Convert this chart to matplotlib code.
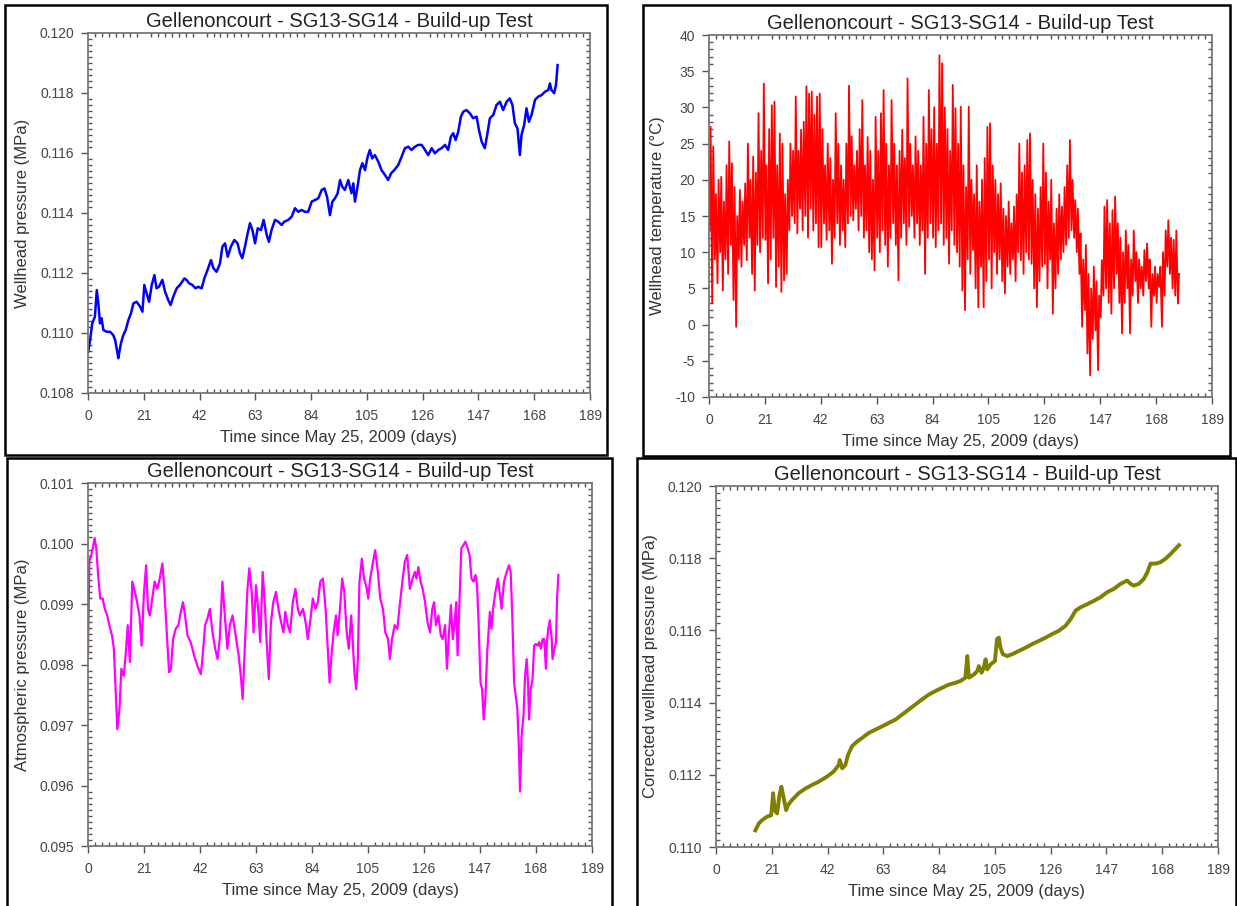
import numpy as np
import matplotlib
matplotlib.use("Agg")
import matplotlib.pyplot as plt
from matplotlib.ticker import MultipleLocator, FormatStrFormatter
from matplotlib.patches import Rectangle

plt.rcParams['font.family'] = ['Liberation Sans', 'DejaVu Sans']
plt.rcParams['axes.unicode_minus'] = False

TITLE = 'Gellenoncourt - SG13-SG14 - Build-up Test'
XLABEL = 'Time since May 25, 2009 (days)'

# --- wellhead pressure (MPa) ---
well_day = [0.1, 0.8, 1.6, 2.6, 3.3, 3.9, 4.5, 5.1, 5.8, 7.0,
            8.3, 9.5, 10.2, 11.0, 11.4, 12.4, 13.3, 14.2, 15.2, 16.2,
            17.1, 18.3, 19.6, 20.5, 21.2, 22.1, 23.0, 24.0, 25.0, 25.8,
            26.7, 28.0, 29.0, 30.2, 31.1, 32.1, 33.4, 34.6, 36.3, 37.1,
            38.0, 39.3, 40.5, 41.5, 42.8, 43.8, 45.0, 46.3, 47.2, 48.4,
            49.7, 50.6, 51.6, 52.6, 53.8, 55.1, 56.3, 57.2, 58.1, 59.1,
            60.1, 61.0, 61.9, 62.9, 63.9, 65.1, 66.1, 67.3, 68.1, 69.1,
            70.4, 71.6, 72.9, 73.9, 75.4, 76.7, 77.9, 79.2, 80.4, 81.7,
            82.9, 84.2, 85.4, 86.7, 88.0, 89.0, 90.0, 91.1, 92.0, 93.0,
            94.0, 94.9, 95.7, 96.7, 98.0, 99.2, 99.9, 100.5, 101.5, 102.4,
            103.3, 104.3, 105.3, 106.1, 107.0, 108.0, 109.3, 110.5, 111.8, 113.0,
            114.1, 115.3, 116.8, 118.1, 119.3, 120.6, 121.8, 123.1, 124.3, 125.6,
            126.9, 128.1, 129.4, 130.6, 131.9, 133.1, 134.4, 135.6, 136.6, 137.5,
            138.4, 139.4, 140.4, 141.3, 142.5, 143.8, 145.0, 146.3, 147.2, 148.2,
            149.4, 150.4, 151.3, 152.6, 153.8, 155.1, 156.3, 157.6, 158.8, 159.8,
            160.7, 161.7, 162.6, 163.2, 164.2, 165.1, 166.0, 167.0, 168.3, 169.5,
            170.8, 172.0, 173.3, 173.9, 174.5, 175.5, 176.2, 176.8]
well_p = [0.10938, 0.10977, 0.11032, 0.11054, 0.11143, 0.11099, 0.11032, 0.11049, 0.11010, 0.11004,
          0.11004, 0.10993, 0.10977, 0.10938, 0.10916, 0.10966, 0.10993, 0.11010, 0.11043, 0.11066,
          0.11099, 0.11104, 0.11088, 0.11071, 0.11160, 0.11132, 0.11104, 0.11160, 0.11193, 0.11149,
          0.11154, 0.11177, 0.11138, 0.11110, 0.11093, 0.11121, 0.11149, 0.11160, 0.11182, 0.11177,
          0.11166, 0.11160, 0.11149, 0.11154, 0.11149, 0.11182, 0.11210, 0.11243, 0.11216, 0.11204,
          0.11232, 0.11288, 0.11299, 0.11254, 0.11288, 0.11310, 0.11299, 0.11266, 0.11249, 0.11288,
          0.11332, 0.11366, 0.11343, 0.11299, 0.11349, 0.11343, 0.11377, 0.11327, 0.11304, 0.11343,
          0.11377, 0.11371, 0.11360, 0.11371, 0.11377, 0.11388, 0.11416, 0.11404, 0.11410, 0.11404,
          0.11404, 0.11438, 0.11443, 0.11449, 0.11477, 0.11482, 0.11454, 0.11393, 0.11438, 0.11449,
          0.11466, 0.11510, 0.11488, 0.11477, 0.11510, 0.11466, 0.11499, 0.11438, 0.11488, 0.11543,
          0.11566, 0.11543, 0.11588, 0.11610, 0.11582, 0.11593, 0.11571, 0.11543, 0.11527, 0.11510,
          0.11532, 0.11543, 0.11560, 0.11588, 0.11616, 0.11621, 0.11610, 0.11621, 0.11627, 0.11627,
          0.11610, 0.11593, 0.11616, 0.11599, 0.11610, 0.11616, 0.11627, 0.11610, 0.11654, 0.11666,
          0.11643, 0.11671, 0.11721, 0.11738, 0.11743, 0.11732, 0.11716, 0.11721, 0.11677, 0.11638,
          0.11616, 0.11666, 0.11716, 0.11727, 0.11760, 0.11771, 0.11743, 0.11771, 0.11782, 0.11760,
          0.11699, 0.11682, 0.11593, 0.11660, 0.11693, 0.11749, 0.11704, 0.11727, 0.11777, 0.11788,
          0.11793, 0.11804, 0.11810, 0.11832, 0.11810, 0.11799, 0.11827, 0.11893]

# --- wellhead temperature (deg C): daily low and high, day 0..176 ---
temp_low = [13, 3, 9, 5.7, 10, 4.7, 9, 7, 11, 3.4,
            -0.3, 9, 8, 11, 8.9, 12, 7, 4.7, 11, 10,
            12, 11.7, 5.7, 9, 12, 5.2, 8, 4.5, 6.1, 7,
            13, 15, 14, 12.6, 16, 13, 15, 12, 16, 13,
            14, 10.7, 10.7, 14, 11.7, 13, 8.4, 12, 14, 11,
            13, 10.7, 14, 15, 14.4, 16, 13, 15, 12, 13,
            10, 9, 7.5, 12, 10, 13, 11, 8, 12, 14,
            11, 6.1, 12, 14, 11, 13.5, 15, 12, 14, 11,
            13, 7, 12, 14, 12, 10.7, 13, 14, 11, 12,
            8.4, 13, 11, 10, 8, 4.7, 2, 9, 7, 10.3,
            5, 2.4, 8, 2.4, 6, 9, 5, 10, 7, 9,
            6, 4.3, 8, 7, 9, 6, 10, 8.9, 7, 10,
            9, 8.4, 5, 2.4, 6, 8, 8.4, 5, 9, 1.5,
            5, 7, 9, 10, 11, 12, 13, 12, 10, 7,
            -0.3, 2, -4, -7, -2, -0.8, -6.3, 1, 4, 5,
            3, 1.5, 5, 7, 3, -1.2, 3, 5, -1.2, 4,
            6, 3, 5, 4, 6, 5, -0.3, 4, 3, 5.2,
            -0.3, 4, 8, 7, 5, 4, 2.9]
temp_high = [27.3, 24.6, 18, 20, 20.4, 17, 22, 25.3, 22.3, 19,
             15, 18.6, 17, 19.5, 25, 20, 23.2, 21, 29.2, 24,
             33.3, 22, 27, 30.3, 30.8, 22, 26.4, 25, 18, 20,
             25, 24, 31.5, 24, 26.9, 28, 32.9, 31.9, 32.2, 29,
             31.5, 31.9, 27, 22, 25, 23, 20, 29.2, 25, 22,
             20, 25, 33, 26, 22, 24, 27, 31, 22, 25.9,
             24, 20, 28.7, 24, 29.2, 32.4, 25, 22, 31, 25,
             22, 24, 26.9, 23, 34, 25, 22, 26, 24, 22,
             28.7, 25, 32.4, 27, 30, 25, 37.2, 36.1, 30, 27,
             24, 33.1, 29.9, 25, 30.1, 22, 19, 30.1, 20, 18,
             22, 17, 20, 23, 27.3, 27.8, 22, 20, 18, 19.5,
             16, 15, 17, 14, 16.3, 18, 25, 21, 22, 25.5,
             26.4, 20, 18, 16, 19, 25, 21, 17, 20, 14,
             16, 18, 16.3, 19, 22, 25.5, 20, 17.2, 16, 12.6,
             9, 11, 7, 5, 8, 6, 4, 8.9, 16.3, 17.2,
             14, 15.8, 17.7, 14, 12, 10, 13, 11, 9, 13,
             10, 9, 8, 10.3, 11.2, 9, 7, 8, 7, 8,
             10, 13, 14.4, 12, 11.7, 13, 7]

# --- atmospheric pressure (MPa) ---
atm_day = [0.0, 0.5, 1.5, 2.5, 3.1, 3.8, 4.6, 5.5, 6.3, 7.2,
           8.0, 9.0, 9.7, 10.5, 11.0, 11.8, 12.5, 13.4, 14.1, 14.9,
           15.7, 16.6, 17.6, 18.4, 19.3, 20.1, 21.0, 21.8, 22.5, 23.2,
           24.1, 25.0, 26.0, 26.9, 27.9, 28.6, 29.4, 30.4, 31.1, 31.9,
           32.9, 33.9, 34.8, 35.6, 36.4, 37.3, 38.5, 39.8, 41.0, 42.3,
           42.9, 43.9, 44.8, 45.7, 46.7, 47.7, 48.6, 49.4, 50.4, 51.3,
           52.3, 53.2, 54.2, 55.2, 56.5, 57.3, 58.0, 59.0, 59.8, 60.5,
           61.4, 62.1, 63.0, 63.9, 64.6, 65.5, 66.4, 67.0, 67.8, 68.6,
           69.5, 70.5, 71.4, 72.4, 73.3, 74.0, 74.9, 75.8, 76.8, 77.8,
           78.7, 79.5, 80.6, 81.6, 82.4, 83.3, 84.3, 85.3, 86.2, 87.1,
           88.1, 89.1, 89.9, 90.6, 91.3, 92.1,
           93.0, 93.6, 94.5, 95.3, 96.1, 97.0, 97.8, 98.7, 99.3, 99.9,
           100.6, 101.2, 101.8, 102.7, 103.5, 104.3, 105.1, 105.8, 106.9, 107.7,
           108.7, 109.6, 110.6, 111.5, 112.5, 113.2, 114.0, 115.0, 116.0, 116.9,
           117.9, 118.8, 119.7, 120.7, 121.7, 122.6, 123.2, 123.9, 124.7, 125.5,
           126.4, 127.3, 128.3, 129.1, 129.8, 130.5, 131.4, 132.3, 133.0, 133.9,
           134.6, 135.4, 136.1, 136.8, 137.5, 138.1, 138.6, 139.3, 140.0, 140.9,
           141.5, 142.4, 143.1, 143.8, 144.6, 145.3, 145.9, 146.5, 147.2, 147.8,
           148.4, 149.0, 149.7, 150.7, 151.3, 151.9, 152.8, 153.7, 154.5, 155.1,
           156.0, 157.0, 157.9, 158.5, 159.1, 159.8, 160.4, 161.0, 161.6, 162.0,
           162.6, 163.3, 163.9, 164.5, 165.0, 165.4, 166.0, 166.7, 167.3, 167.9,
           168.6, 169.2, 169.8, 170.5, 171.1, 171.7, 172.1, 172.6, 173.2, 173.9,
           174.2, 174.9, 175.5, 175.9, 176.4]
atm_p = [0.09817, 0.09970, 0.09986, 0.10009, 0.09992, 0.09948, 0.09909, 0.09909, 0.09892, 0.09881,
         0.09865, 0.09848, 0.09826, 0.09743, 0.09693, 0.09726, 0.09793, 0.09781, 0.09815, 0.09865,
         0.09804, 0.09937, 0.09920, 0.09903, 0.09881, 0.09831, 0.09920, 0.09964, 0.09892, 0.09881,
         0.09909, 0.09937, 0.09925, 0.09942, 0.09967, 0.09925, 0.09865, 0.09787, 0.09793, 0.09842,
         0.09859, 0.09865, 0.09887, 0.09903, 0.09881, 0.09848, 0.09837, 0.09815, 0.09798, 0.09784,
         0.09809, 0.09865, 0.09876, 0.09892, 0.09853, 0.09826, 0.09809, 0.09842, 0.09937, 0.09881,
         0.09826, 0.09865, 0.09881, 0.09853, 0.09815, 0.09781, 0.09743, 0.09848, 0.09925, 0.09959,
         0.09920, 0.09853, 0.09931, 0.09887, 0.09837, 0.09953, 0.09892, 0.09837, 0.09776, 0.09870,
         0.09903, 0.09920, 0.09892, 0.09870, 0.09853, 0.09887, 0.09865, 0.09853, 0.09903, 0.09925,
         0.09892, 0.09881, 0.09892, 0.09870, 0.09842, 0.09870, 0.09909, 0.09892, 0.09903, 0.09937,
         0.09942, 0.09892, 0.09826, 0.09770, 0.09815, 0.09853,
         0.09881, 0.09848, 0.09892, 0.09942, 0.09920, 0.09853, 0.09826, 0.09881, 0.09837, 0.09787,
         0.09759, 0.09809, 0.09937, 0.09975, 0.09942, 0.09931, 0.09909, 0.09942, 0.09970, 0.09989,
         0.09953, 0.09909, 0.09892, 0.09853, 0.09842, 0.09809, 0.09842, 0.09865, 0.09859, 0.09898,
         0.09937, 0.09970, 0.09981, 0.09925, 0.09942, 0.09953, 0.09942, 0.09961, 0.09937, 0.09925,
         0.09903, 0.09870, 0.09853, 0.09892, 0.09903, 0.09865, 0.09881, 0.09848, 0.09842, 0.09865,
         0.09793, 0.09853, 0.09898, 0.09842, 0.09870, 0.09903, 0.09815, 0.09903, 0.09992, 0.09998,
         0.10003, 0.09992, 0.09981, 0.09942, 0.09937, 0.09948, 0.09931, 0.09865, 0.09770, 0.09759,
         0.09709, 0.09743, 0.09820, 0.09887, 0.09859, 0.09892, 0.09920, 0.09942, 0.09914, 0.09892,
         0.09937, 0.09953, 0.09964, 0.09953, 0.09881, 0.09770, 0.09748, 0.09726, 0.09660, 0.09590,
         0.09682, 0.09715, 0.09781, 0.09809, 0.09770, 0.09709, 0.09759, 0.09776, 0.09831, 0.09834,
         0.09831, 0.09837, 0.09826, 0.09842, 0.09842, 0.09793, 0.09837, 0.09859, 0.09873, 0.09842,
         0.09809, 0.09826, 0.09837, 0.09909, 0.09948]

# --- corrected wellhead pressure (MPa) ---
corr_day = [14.8, 16.1, 17.3, 19.2, 20.8, 21.5, 22.1, 23.0, 23.9, 24.6,
            25.5, 26.4, 27.1, 28.6, 31.1, 33.7, 36.2, 38.7, 41.8, 44.3,
            46.2, 46.6, 47.5, 48.7, 49.7, 51.2, 53.1, 55.0, 57.5, 60.0,
            62.5, 65.1, 67.6, 70.1, 72.6, 75.1, 77.6, 80.1, 82.6, 85.1,
            87.7, 90.2, 92.1, 93.9, 94.6, 95.2, 97.1, 98.3, 99.0, 100.0,
            100.8, 101.5, 102.1, 103.4, 105.0, 105.8, 106.5, 107.1, 108.0, 109.6,
            111.5, 114.0, 116.5, 119.0, 121.6, 124.1, 126.6, 129.1, 131.6, 133.5,
            135.4, 137.3, 139.8, 142.3, 144.8, 147.3, 149.8, 152.3, 154.8, 156.1,
            157.3, 159.2, 161.1, 162.4, 163.6, 165.5, 167.4, 169.3, 171.2, 173.0,
            174.3]
corr_p = [0.11046, 0.11065, 0.11074, 0.11084, 0.11088, 0.11149, 0.11102, 0.11093, 0.11144, 0.11167,
          0.11135, 0.11102, 0.11116, 0.11130, 0.11149, 0.11162, 0.11172, 0.11181, 0.11195, 0.11209,
          0.11227, 0.11241, 0.11218, 0.11227, 0.11255, 0.11279, 0.11292, 0.11302, 0.11316, 0.11325,
          0.11334, 0.11344, 0.11353, 0.11367, 0.11381, 0.11395, 0.11409, 0.11422, 0.11432, 0.11441,
          0.11450, 0.11455, 0.11460, 0.11469, 0.11529, 0.11469, 0.11478, 0.11487, 0.11501, 0.11483,
          0.11497, 0.11520, 0.11492, 0.11506, 0.11515, 0.11576, 0.11580, 0.11552, 0.11534, 0.11529,
          0.11534, 0.11543, 0.11552, 0.11562, 0.11571, 0.11580, 0.11590, 0.11599, 0.11613, 0.11631,
          0.11655, 0.11664, 0.11673, 0.11682, 0.11692, 0.11706, 0.11715, 0.11729, 0.11738, 0.11729,
          0.11724, 0.11729, 0.11743, 0.11761, 0.11785, 0.11785, 0.11789, 0.11799, 0.11812, 0.11826,
          0.11836]

W, H = 1237, 906
fig = plt.figure(figsize=(W / 100, H / 100), dpi=100)


def frame(x0, y0, x1, y1):
    fig.add_artist(Rectangle((x0 / W, 1 - y1 / H), (x1 - x0) / W, (y1 - y0) / H,
                             transform=fig.transFigure, fill=False, ec='black', lw=1.8))


def panel(box, ylim, ystep, ysub, fmt, ylabel):
    l, t, r, b = box
    ax = fig.add_axes([l / W, 1 - b / H, (r - l) / W, (b - t) / H])
    ax.set_xlim(0, 189)
    ax.set_ylim(*ylim)
    ax.xaxis.set_major_locator(MultipleLocator(21))
    ax.xaxis.set_minor_locator(MultipleLocator(21 / 8))
    ax.yaxis.set_major_locator(MultipleLocator(ystep))
    ax.yaxis.set_minor_locator(MultipleLocator(ystep / ysub))
    ax.yaxis.set_major_formatter(FormatStrFormatter(fmt))
    ax.tick_params(which='major', direction='out', length=5, width=1, color='#555',
                   labelsize=10, labelcolor='#444')
    ax.tick_params(axis='x', which='major', pad=6.5)
    ax.tick_params(axis='y', which='major', pad=5)
    ax.tick_params(which='minor', direction='in', length=3, width=1, color='#555',
                   top=True, right=True)
    for s in ax.spines.values():
        s.set_color('#777')
        s.set_linewidth(1.3)
    ax.set_title(TITLE, fontsize=14.5, color='#222', pad=4)
    ax.set_xlabel(XLABEL, fontsize=12, color='#333', labelpad=5)
    ax.set_ylabel(ylabel, fontsize=12, color='#333', labelpad=7)
    return ax


# top left: wellhead pressure
ax1 = panel((88, 33, 590, 393), (0.108, 0.120), 0.002, 10, '%.3f', 'Wellhead pressure (MPa)')
ax1.plot(well_day, well_p, color='#0000ff', lw=1.8)
frame(5, 5, 607, 455)

# top right: wellhead temperature
ax2 = panel((709, 35, 1212, 397), (-10, 40), 5, 5, '%d', 'Wellhead temperature (°C)')
days = np.arange(len(temp_low))
tx = np.column_stack([days + 0.2, days + 0.6]).ravel()
ty = np.column_stack([temp_low, temp_high]).ravel()
ax2.plot(tx, ty, color='#ff0000', lw=1.3)
frame(643, 5, 1230, 456)

# bottom left: atmospheric pressure
ax3 = panel((88, 483, 592, 846), (0.095, 0.101), 0.001, 10, '%.3f', 'Atmospheric pressure (MPa)')
ax3.plot(atm_day, atm_p, color='#ff00ff', lw=1.6)
frame(7, 458, 612, 915)

# bottom right: corrected wellhead pressure
ax4 = panel((716, 486, 1218, 847), (0.110, 0.120), 0.002, 10, '%.3f', 'Corrected wellhead pressure (MPa)')
ax4.plot(corr_day, corr_p, color='#808000', lw=2.8)
frame(637, 458, 1236, 915)

fig.savefig('out.png', dpi=100)
